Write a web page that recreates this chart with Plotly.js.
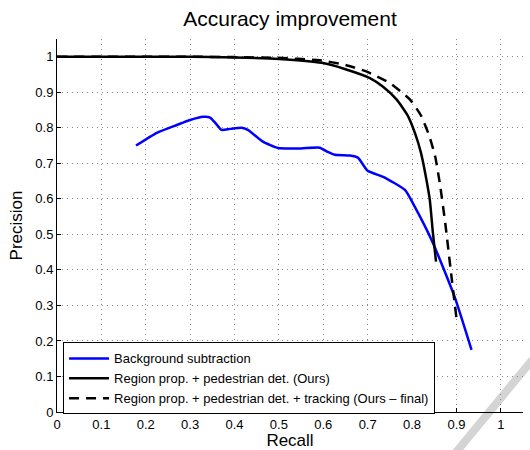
<!DOCTYPE html>
<html>
<head>
<meta charset="utf-8">
<script src="https://cdn.plot.ly/plotly-3.0.1.min.js"></script>
<style>html,body{margin:0;padding:0;background:#fff;}#chart{width:530px;height:450px;}</style>
</head>
<body>
<div id="chart"></div>
<script>
// Background subtraction
var bgRecall = [0.178, 0.225, 0.27, 0.30, 0.329, 0.345, 0.358, 0.371, 0.39, 0.416, 0.43, 0.464, 0.498, 0.55, 0.592, 0.61, 0.626, 0.66, 0.678, 0.70, 0.735, 0.784, 0.806, 0.847, 0.896, 0.934];
var bgPrecision = [0.75, 0.786, 0.808, 0.822, 0.831, 0.829, 0.812, 0.794, 0.797, 0.80, 0.794, 0.761, 0.743, 0.742, 0.744, 0.732, 0.724, 0.722, 0.716, 0.679, 0.662, 0.625, 0.578, 0.476, 0.324, 0.175];
// Region prop. + pedestrian det. (Ours)
var rpRecall = [0.0, 0.1, 0.2, 0.3, 0.4, 0.5, 0.597, 0.65, 0.705, 0.734, 0.765, 0.79, 0.808, 0.82, 0.83, 0.84, 0.847, 0.854];
var rpPrecision = [1.0, 1.0, 1.0, 1.0, 0.998, 0.994, 0.983, 0.965, 0.94, 0.916, 0.88, 0.835, 0.78, 0.73, 0.67, 0.597, 0.504, 0.423];
// Region prop. + pedestrian det. + tracking (Ours - final)
var trRecall = [0.0, 0.1, 0.2, 0.3, 0.4, 0.495, 0.592, 0.65, 0.698, 0.75, 0.795, 0.82, 0.838, 0.852, 0.863, 0.875, 0.888, 0.90];
var trPrecision = [1.0, 1.0, 1.0, 1.0, 0.999, 0.997, 0.99, 0.977, 0.958, 0.926, 0.88, 0.835, 0.78, 0.72, 0.64, 0.53, 0.39, 0.265];

var seriesNames = ['Background subtraction', 'Region prop. + pedestrian det. (Ours)', 'Region prop. + pedestrian det. + tracking (Ours \u2013 final)'];
var tickVals = [0, 0.1, 0.2, 0.3, 0.4, 0.5, 0.6, 0.7, 0.8, 0.9, 1];
var tickText = ['0', '0.1', '0.2', '0.3', '0.4', '0.5', '0.6', '0.7', '0.8', '0.9', '1'];

var FONT = 'Liberation Sans, Arial, Helvetica, sans-serif';

var traces = [
  {x: bgRecall, y: bgPrecision, name: seriesNames[0], mode: 'lines', line: {color: '#0000ff', width: 2.5, shape: 'spline', smoothing: 0.5}},
  {x: rpRecall, y: rpPrecision, name: seriesNames[1], mode: 'lines', line: {color: '#000000', width: 2.5, shape: 'spline', smoothing: 0.5}},
  {x: trRecall, y: trPrecision, name: seriesNames[2], mode: 'lines', line: {color: '#000000', width: 2.5, dash: '10px,7px', shape: 'spline', smoothing: 0.5}}
];

var axisCommon = {
  range: [0, 1.05],
  tickvals: tickVals,
  ticktext: tickText,
  showgrid: true,
  gridcolor: '#8a8a8a',
  griddash: '1px,4px',
  gridwidth: 1,
  zeroline: false,
  showline: true,
  linecolor: '#000',
  linewidth: 1,
  ticks: 'inside',
  ticklen: 4,
  tickcolor: '#000',
  tickfont: {family: FONT, size: 13, color: '#000'}
};

var layout = {
  width: 530, height: 450,
  margin: {l: 57, r: 7, t: 39, b: 38},
  paper_bgcolor: '#fff', plot_bgcolor: '#fff',
  title: {text: 'Accuracy improvement', font: {family: FONT, size: 21, color: '#000'}, xref: 'paper', x: 0.5, xanchor: 'center', y: 0.958, yanchor: 'middle'},
  xaxis: Object.assign({}, axisCommon, {title: {text: 'Recall', font: {family: FONT, size: 17, color: '#000'}, standoff: 0}}),
  yaxis: Object.assign({}, axisCommon, {title: {text: 'Precision', font: {family: FONT, size: 17, color: '#000'}, standoff: 8}}),
  showlegend: true,
  legend: {
    x: 0.013, y: 0.09, xanchor: 'left', yanchor: 'middle',
    bgcolor: '#fff', bordercolor: '#000', borderwidth: 1,
    font: {family: FONT, size: 13, color: '#000'},
    tracegroupgap: 0, itemwidth: 40
  },
  shapes: [
    {type: 'line', xref: 'paper', yref: 'paper', x0: 0.855, y0: -0.11, x1: 1.02, y1: 0.14, line: {color: '#d4d4d4', width: 8}, layer: 'below'}
  ]
};

Plotly.newPlot('chart', traces, layout, {displayModeBar: false, staticPlot: true});
</script>
</body>
</html>
